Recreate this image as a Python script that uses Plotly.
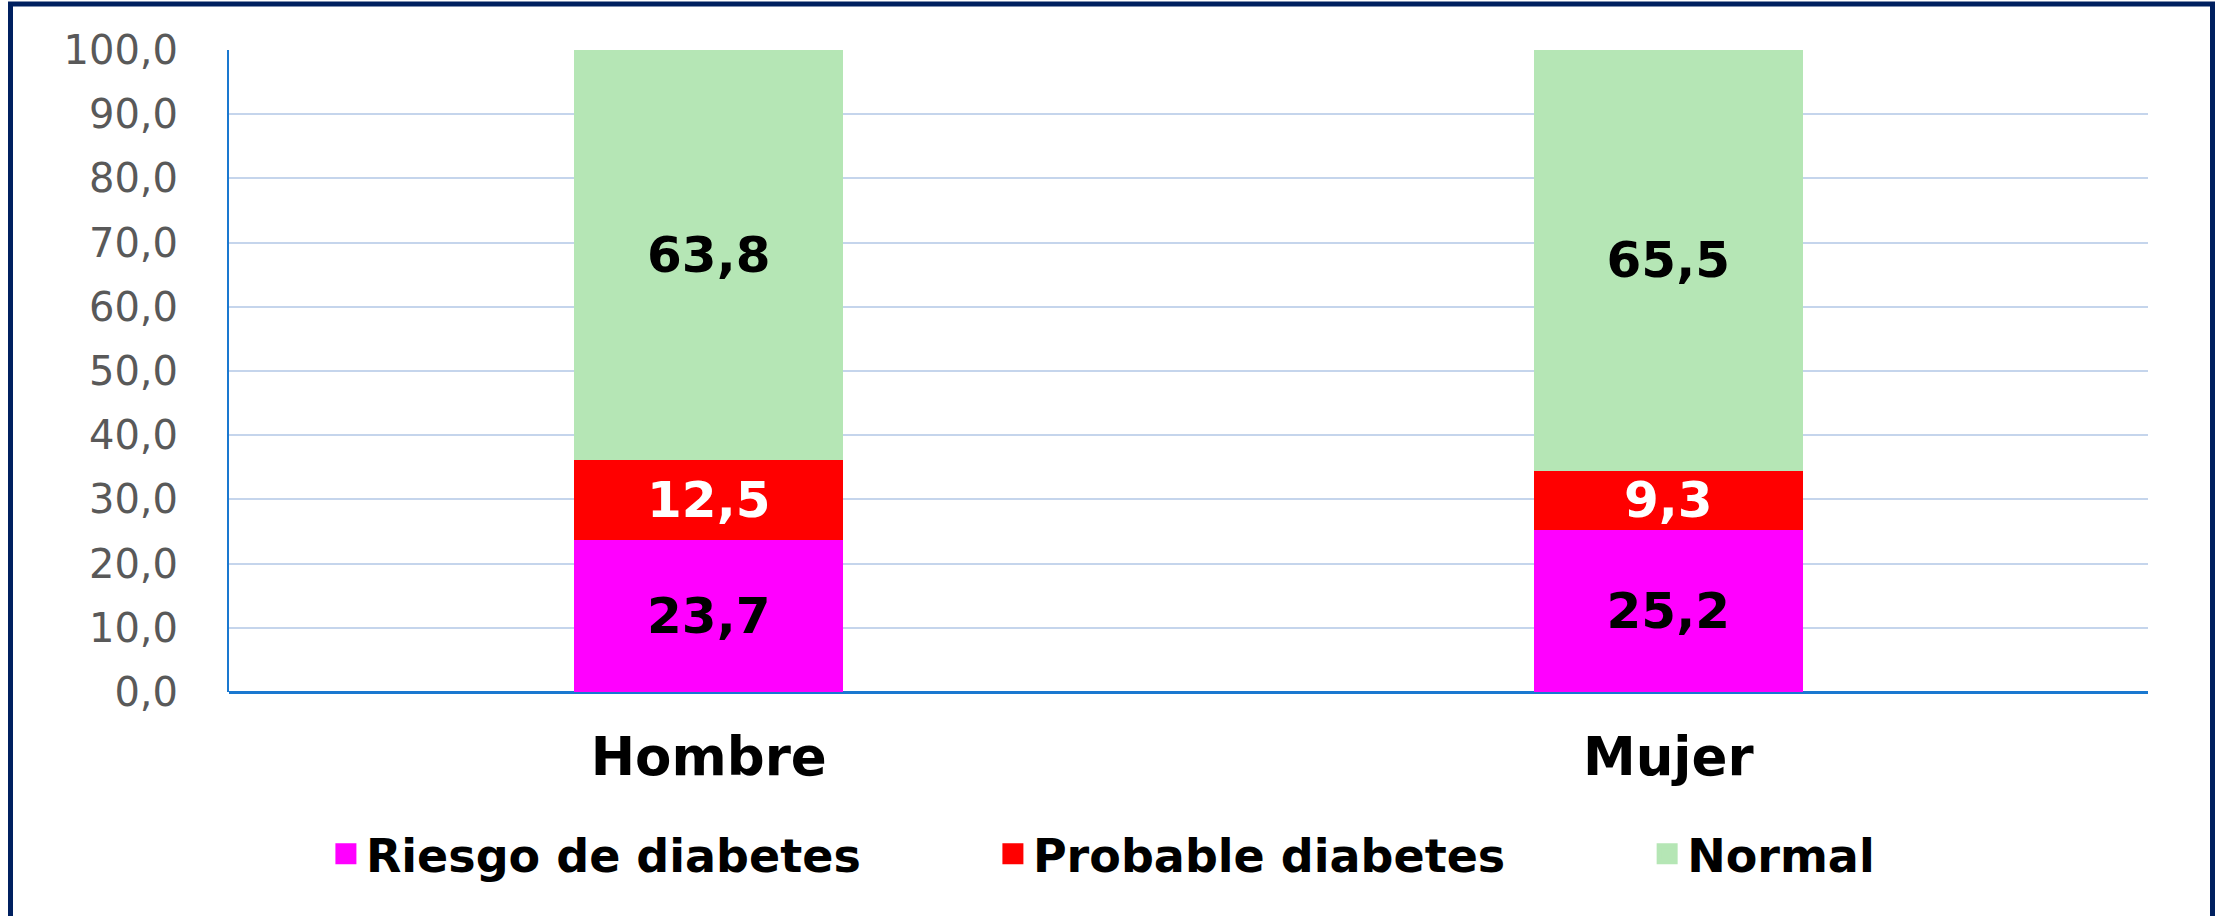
import plotly.graph_objects as go

categories = ["Hombre", "Mujer"]
riesgo = [23.7, 25.2]
probable = [12.5, 9.3]
normal = [63.8, 65.5]
series_names = ["Riesgo de diabetes", "Probable diabetes", "Normal"]
series_colors = ["#FF00FF", "#FF0000", "#B5E6B5"]
label_colors = ["black", "white", "black"]
legend_groups = ["legend", "legend", "legend2"]
y_ticks = [0, 10, 20, 30, 40, 50, 60, 70, 80, 90, 100]
y_tick_labels = ["0,0", "10,0", "20,0", "30,0", "40,0", "50,0", "60,0", "70,0", "80,0", "90,0", "100,0"]

FONT = "DejaVu Sans"

def fmt(v):
    return f"{v:.1f}".replace(".", ",")

fig = go.Figure()
for name, vals, col, lcol in zip(series_names, [riesgo, probable, normal], series_colors, label_colors):
    fig.add_trace(go.Bar(
        x=categories, y=vals, name=name, marker=dict(color=col, line=dict(width=0)),
        text=[fmt(v) for v in vals], textposition="inside", insidetextanchor="middle",
        textangle=0, constraintext="none",
        textfont=dict(family=FONT, size=50, color=lcol, weight="bold"),
        showlegend=False,
    ))
# legend entries
for name, col, lg in zip(series_names, series_colors, legend_groups):
    fig.add_trace(go.Scatter(
        x=[None], y=[None], mode="markers", name=name, legend=lg,
        marker=dict(symbol="square", size=16, color=col, line=dict(color=col, width=5)),
        showlegend=True,
    ))

legend_font = dict(family=FONT, size=46, color="black", weight="bold")
fig.update_layout(
    width=2221, height=916,
    barmode="stack", bargap=0.72,
    paper_bgcolor="white", plot_bgcolor="white",
    margin=dict(l=229, r=73, t=50, b=224),
    font=dict(family=FONT),
    legend=dict(
        orientation="h", x=0.0505, xanchor="left", y=-0.252, yanchor="middle",
        font=legend_font, itemsizing="trace", traceorder="normal",
        entrywidth=622, entrywidthmode="pixels",
    ),
    legend2=dict(
        orientation="h", x=0.739, xanchor="left", y=-0.252, yanchor="middle",
        font=legend_font, itemsizing="trace",
    ),
    xaxis=dict(
        type="category", showgrid=False, showline=False, zeroline=False,
        tickfont=dict(family=FONT, size=53, color="black", weight="bold"),
        ticks="outside", ticklen=0, ticklabelstandoff=18,
    ),
    yaxis=dict(
        range=[0, 100], tickvals=y_ticks, ticktext=y_tick_labels,
        showgrid=True, gridcolor="#C5D5EC", gridwidth=2,
        showline=True, linecolor="#1A78D0", linewidth=2,
        zeroline=True, zerolinecolor="#1A78D0", zerolinewidth=3,
        tickfont=dict(family=FONT, size=40, color="#595959"),
        ticklabelstandoff=41,
    ),
    shapes=[dict(
        type="rect", xref="paper", yref="paper",
        x0=(10.5 - 229) / 1919, x1=(2212.5 - 229) / 1919,
        y0=(692 - 940) / 642, y1=(692 - 4) / 642,
        line=dict(color="#002060", width=5), fillcolor="rgba(0,0,0,0)", layer="below",
    )],
)

fig.write_html("out.html", config={"displayModeBar": False},
               post_script="document.body.style.margin='0';")
